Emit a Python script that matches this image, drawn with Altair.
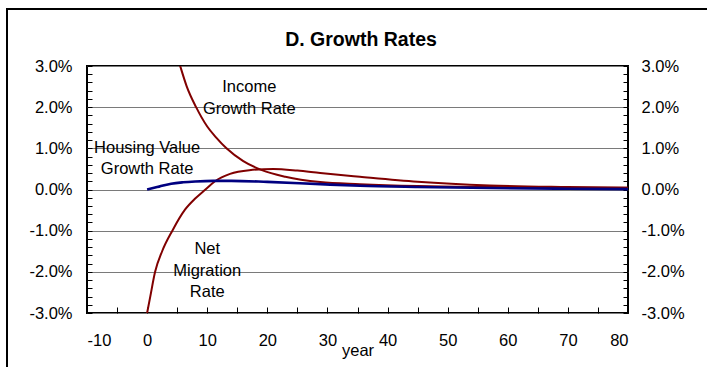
import altair as alt
import pandas as pd

# ---- series (rates in percent per year) ----
income_year = [4.6, 5.5, 6.6, 8.15, 10.0, 11.5, 13.2, 16.0, 19.1, 23.0, 28.8, 35.4, 45.0, 57.0, 70.0, 80.0]
income_rate = [3.44, 3.0, 2.5, 2.0, 1.53, 1.26, 1.0, 0.69, 0.47, 0.31, 0.18, 0.13, 0.085, 0.06, 0.045, 0.04]

mig_year = [0.0, 0.5, 1.33, 2.5, 4.2, 6.3, 8.0, 9.7, 11.3, 13.8, 17.0, 21.0, 25.0, 28.8, 35.4, 45.0, 57.0, 70.0, 80.0]
mig_rate = [-3.0, -2.62, -2.0, -1.5, -1.0, -0.49, -0.22, 0.0, 0.2, 0.38, 0.47, 0.50, 0.46, 0.40, 0.31, 0.19, 0.10, 0.06, 0.04]

house_year = [0.0, 2.0, 4.0, 6.0, 8.0, 11.0, 14.0, 20.0, 28.8, 35.4, 45.0, 57.0, 70.0, 80.0]
house_rate = [0.0, 0.07, 0.14, 0.175, 0.195, 0.21, 0.21, 0.185, 0.13, 0.09, 0.06, 0.035, 0.02, 0.01]

# ---- curve annotations ----
label_text = ["Income", "Growth Rate", "Housing Value", "Growth Rate", "Net", "Migration", "Rate"]
label_year = [17.0, 17.0, 0.0, 0.0, 10.0, 10.0, 10.0]
label_rate = [2.48, 1.95, 1.0, 0.50, -1.45, -1.97, -2.49]

TITLE = "D. Growth Rates"

# ---- axis ticks ----
x_major = [-10, 0, 10, 20, 30, 40, 50, 60, 70, 80]
x_minor = [-10, -5, 0, 5, 10, 15, 20, 25, 30, 35, 40, 45, 50, 55, 60, 65, 70, 75, 80]
y_major = [-0.03, -0.02, -0.01, 0.0, 0.01, 0.02, 0.03]
y_minor = [-0.030, -0.028, -0.026, -0.024, -0.022, -0.020, -0.018, -0.016, -0.014, -0.012,
           -0.010, -0.008, -0.006, -0.004, -0.002, 0.000, 0.002, 0.004, 0.006, 0.008,
           0.010, 0.012, 0.014, 0.016, 0.018, 0.020, 0.022, 0.024, 0.026, 0.028, 0.030]

W, H = 541, 247
FONT = "Liberation Sans"
RED = "#800000"
BLUE = "#000080"
TICK_FS = 16.5
# plain hyphen instead of the typographic minus sign in tick labels
HYPHEN = "replace(datum.label, '\u2212', '-')"

income_df = pd.DataFrame({"year": income_year, "rate": [v / 100 for v in income_rate]})
mig_df = pd.DataFrame({"year": mig_year, "rate": [v / 100 for v in mig_rate]})
house_df = pd.DataFrame({"year": house_year, "rate": [v / 100 for v in house_rate]})
label_df = pd.DataFrame({"year": label_year, "rate": [v / 100 for v in label_rate], "text": label_text})


def xs():
    return alt.Scale(domain=[-10, 80], nice=False, zero=False)


def ys():
    return alt.Scale(domain=[-0.03, 0.03], nice=False, zero=False)


# bottom labels + title, left labels + gridlines
income = alt.Chart(income_df).mark_line(
    color=RED, strokeWidth=2, interpolate="monotone", clip=True
).encode(
    x=alt.X("year:Q", scale=xs(), title="year",
            axis=alt.Axis(orient="bottom", values=x_major, ticks=False, tickSize=0, domain=False,
                          grid=False, labelFontSize=TICK_FS, labelPadding=32,
                          labelBaseline="alphabetic", labelColor="black", labelExpr=HYPHEN,
                          titleFontSize=16.5, titleFontWeight="normal", titleColor="black",
                          titleY=42, titleBaseline="alphabetic")),
    y=alt.Y("rate:Q", scale=ys(), title=None,
            axis=alt.Axis(orient="left", values=y_major, format=".1%", ticks=False, tickSize=0,
                          domain=False, grid=True, gridColor="#7a7a7a", gridWidth=1, gridOpacity=1,
                          labelFontSize=TICK_FS, labelPadding=15, labelColor="black",
                          labelExpr=HYPHEN)),
)

# inward ticks along the bottom and the left edge
migration = alt.Chart(mig_df).mark_line(
    color=RED, strokeWidth=2, interpolate="monotone", clip=True
).encode(
    x=alt.X("year:Q", scale=xs(), title=None,
            axis=alt.Axis(orient="top", offset=-H, values=x_minor, labels=False, domain=False,
                          grid=False, ticks=True, tickSize=6, tickColor="black", tickWidth=1)),
    y=alt.Y("rate:Q", scale=ys(), title=None,
            axis=alt.Axis(orient="right", offset=-W, values=y_minor, labels=False, domain=False,
                          grid=False, ticks=True, tickSize=5, tickColor="black", tickWidth=1)),
)

# right labels
housing = alt.Chart(house_df).mark_line(
    color=BLUE, strokeWidth=2.6, interpolate="monotone", clip=True
).encode(
    x=alt.X("year:Q", scale=xs(), axis=None),
    y=alt.Y("rate:Q", scale=ys(), title=None,
            axis=alt.Axis(orient="right", values=y_major, format=".1%", ticks=False, tickSize=0,
                          domain=False, grid=False, labelFontSize=TICK_FS, labelPadding=13,
                          labelColor="black", labelExpr=HYPHEN)),
)

# annotations, plus inward ticks along the right edge
labels = alt.Chart(label_df).mark_text(
    font=FONT, fontSize=16.5, color="black", align="center", baseline="middle"
).encode(
    x=alt.X("year:Q", scale=xs(), axis=None),
    y=alt.Y("rate:Q", scale=ys(), title=None,
            axis=alt.Axis(orient="left", offset=-W, values=y_minor, labels=False, domain=False,
                          grid=False, ticks=True, tickSize=5, tickColor="black", tickWidth=1)),
    text="text:N",
)

# chart heading
heading = alt.Chart(pd.DataFrame({"t": [TITLE]})).mark_text(
    font=FONT, fontSize=19.5, fontWeight="bold", color="black", align="center",
    baseline="alphabetic"
).encode(
    x=alt.value(274), y=alt.value(-20.5), text="t:N"
)

# outer chart border
border = alt.Chart(pd.DataFrame({"k": [0]})).mark_rect(
    fillOpacity=0, stroke="black", strokeWidth=2
).encode(
    x=alt.value(-80), x2=alt.value(800), y=alt.value(-57), y2=alt.value(400)
)

chart = alt.layer(income, migration, housing, labels, heading, border).resolve_scale(
    x="independent", y="independent"
).properties(
    width=W,
    height=H,
    padding={"left": 87, "top": 66, "right": 79, "bottom": 54},
    autosize=alt.AutoSizeParams(type="none"),
).configure(
    font=FONT,
    background="white",
).configure_view(
    stroke="black", strokeWidth=2
).configure_axis(
    labelFont=FONT, titleFont=FONT
)

chart.save("out.html", embed_options={"renderer": "svg", "actions": False})
